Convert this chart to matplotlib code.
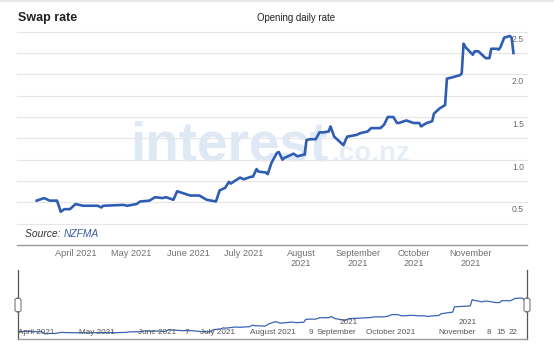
import matplotlib
matplotlib.use("Agg")
import matplotlib.pyplot as plt
import matplotlib.dates as mdates
from matplotlib.transforms import offset_copy
from matplotlib.patches import FancyBboxPatch
from matplotlib.lines import Line2D
import pandas as pd
from datetime import datetime

# ---------------- data ----------------
dates = ["2021-03-11", "2021-03-15", "2021-03-18", "2021-03-22", "2021-03-24", "2021-03-26",
         "2021-03-29", "2021-04-01", "2021-04-05", "2021-04-13", "2021-04-15", "2021-04-16",
         "2021-04-27", "2021-04-29", "2021-05-04", "2021-05-06", "2021-05-11", "2021-05-14",
         "2021-05-18", "2021-05-20", "2021-05-24", "2021-05-26", "2021-06-02", "2021-06-07",
         "2021-06-11", "2021-06-16", "2021-06-18", "2021-06-21", "2021-06-23", "2021-06-24",
         "2021-06-29", "2021-07-01", "2021-07-05", "2021-07-06", "2021-07-08", "2021-07-09",
         "2021-07-13", "2021-07-14", "2021-07-16", "2021-07-19", "2021-07-20", "2021-07-22",
         "2021-07-23", "2021-07-28", "2021-07-30", "2021-08-03", "2021-08-04", "2021-08-06",
         "2021-08-09", "2021-08-11", "2021-08-13", "2021-08-16", "2021-08-17", "2021-08-19",
         "2021-08-24", "2021-08-26", "2021-08-31", "2021-09-02", "2021-09-06", "2021-09-08",
         "2021-09-13", "2021-09-15", "2021-09-17", "2021-09-20", "2021-09-22", "2021-09-23",
         "2021-09-27", "2021-10-01", "2021-10-04", "2021-10-05", "2021-10-08", "2021-10-11",
         "2021-10-12", "2021-10-15", "2021-10-18", "2021-10-19", "2021-10-21", "2021-10-26",
         "2021-10-27", "2021-10-28", "2021-10-29", "2021-11-02", "2021-11-03", "2021-11-05",
         "2021-11-09", "2021-11-11", "2021-11-12", "2021-11-15", "2021-11-16", "2021-11-17",
         "2021-11-19", "2021-11-22", "2021-11-23", "2021-11-24"]
rates = [0.52, 0.55, 0.52, 0.52, 0.39, 0.42,
         0.42, 0.48, 0.46, 0.46, 0.44, 0.46,
         0.47, 0.46, 0.48, 0.51, 0.52, 0.56,
         0.55, 0.56, 0.53, 0.63, 0.58, 0.58,
         0.53, 0.51, 0.64, 0.67, 0.74, 0.72,
         0.79, 0.77, 0.80, 0.80, 0.89, 0.86,
         0.85, 0.83, 0.96, 1.08, 1.09, 1.00,
         1.02, 1.07, 1.04, 1.06, 1.23, 1.24,
         1.24, 1.32, 1.32, 1.33, 1.39, 1.27,
         1.17, 1.27, 1.29, 1.31, 1.33, 1.37,
         1.37, 1.41, 1.50, 1.50, 1.43, 1.43,
         1.46, 1.43, 1.43, 1.39, 1.43, 1.45,
         1.54, 1.60, 1.64, 1.95, 1.96, 1.99,
         2.01, 2.36, 2.32, 2.23, 2.27, 2.27,
         2.19, 2.19, 2.30, 2.30, 2.29, 2.32,
         2.43, 2.45, 2.43, 2.25]

month_ticks = ["2021-04-01", "2021-05-01", "2021-06-01", "2021-07-01",
               "2021-08-01", "2021-09-01", "2021-10-01", "2021-11-01"]
month_labels = ["April 2021", "May 2021", "June 2021", "July 2021",
                "August\n2021", "September\n2021", "October\n2021", "November\n2021"]
y_ticks = [0.5, 1.0, 1.5, 2.0, 2.5]
y_tick_labels = ["0.5", "1.0", "1.5", "2.0", "2.5"]

title = "Swap rate"
subtitle = "Opening daily rate"

# navigator labels (text, left pixel x, row)  -- layout only
nav_labels = [("April 2021", 18, 0), ("May 2021", 79, 0), ("June 2021", 138, 0), ("7", 185, 0),
              ("July 2021", 200, 0), ("August 2021", 250, 0), ("9", 309, 0),
              ("September", 317, 0), ("2021", 340, 1), ("October 2021", 366, 0),
              ("November", 438, 0), ("2021", 459, 1), ("8", 487, 0), ("15", 496, 0),
              ("22", 509, 0)]

# ---------------- plotting ----------------
W, H = 554, 355
plt.rcParams['font.family'] = ['Liberation Sans', 'DejaVu Sans']
fig = plt.figure(figsize=(W / 100, H / 100), dpi=100)
fig.patch.set_facecolor("white")

x = pd.to_datetime(dates)
LINE = "#2f5db3"

def fx(px):
    return px / W

def fy(py):
    return 1 - py / H

# main axes
left, right, top, bottom = 17, 527, 31.7, 245
ax = fig.add_axes([fx(left), fy(bottom), (right - left) / W, (bottom - top) / H])
ax.set_xlim(datetime(2021, 2, 28, 8), datetime(2021, 12, 1, 8))
ax.set_ylim(0, 2.5)
for s in ["top", "left", "right"]:
    ax.spines[s].set_visible(False)
ax.spines["bottom"].set_color("#9a9a9a")
ax.spines["bottom"].set_linewidth(1.0)
ax.set_yticks([i * 0.25 for i in range(11)])
ax.tick_params(axis="y", length=0, labelleft=False)
ax.grid(axis="y", color="#e6e6e6", linewidth=0.8)
for gl in ax.get_ygridlines():
    gl.set_clip_on(False)
ax.set_xticks(pd.to_datetime(month_ticks))
ax.set_xticklabels(month_labels, fontsize=6.6, color="#6e6e6e", linespacing=1.15)
ax.tick_params(axis="x", length=0, pad=3.2)

# watermark
ax.text(0.222, 0.395, "interest", transform=ax.transAxes, fontsize=39.5, fontweight="bold",
        color="#dfe8f5", ha="left", va="baseline", zorder=0)
ax.text(0.615, 0.395, ".co.nz", transform=ax.transAxes, fontsize=20, fontweight="bold",
        color="#e8eef7", ha="left", va="baseline", zorder=0)

ax.plot(x, rates, color=LINE, linewidth=1.9, solid_joinstyle="round", zorder=3)

# y labels inside, below gridlines
ytrans = offset_copy(ax.get_yaxis_transform(), fig=fig, y=-7.5, units="dots")
for v, lab in zip(y_ticks, y_tick_labels):
    ax.text((524 - left) / (right - left), v, lab, transform=ytrans, ha="right", va="center",
            fontsize=6.2, color="#6a6a6a")

# source
src = ax.text((25 - left) / (right - left), 0.05, "Source: ", transform=ax.transAxes,
              fontsize=7.4, style="italic", color="#333333", ha="left", va="center")
ax.annotate("NZFMA", xy=(1, 0), xycoords=src, ha="left", va="bottom",
            fontsize=7.4, style="italic", color="#3b5b9c")

# titles
fig.text(fx(18), fy(18.3), title, fontsize=9, fontweight="bold", color="#222222",
         ha="left", va="center")
fig.text(fx(257), fy(18.3), subtitle, fontsize=6.9, color="#222222",
         ha="left", va="center")
fig.add_artist(Line2D([0, 1], [fy(0.8), fy(0.8)], color="#e4e4e4", linewidth=1.2))

# navigator
nl, nr, nt, nb = 18, 527, 270, 339
nav = fig.add_axes([fx(nl), fy(nb), (nr - nl) / W, (nb - nt) / H])
nav.set_xlim(datetime(2021, 3, 10), datetime(2021, 11, 25))
nav.set_ylim(0.1, 4.06)
nav.plot(x, rates, color="#3b63b3", linewidth=0.9)
nav.set_xticks([])
nav.set_yticks([])
nav.spines["top"].set_visible(False)
for s in ["left", "right"]:
    nav.spines[s].set_color("#555555")
    nav.spines[s].set_linewidth(0.9)
nav.spines["bottom"].set_color("#9a9a9a")
nav.spines["bottom"].set_linewidth(1.0)
nav.patch.set_alpha(0)
for lab, px, row in nav_labels:
    nav.text((px - nl) / (nr - nl), (nb - (332 if row == 0 else 322.3)) / (nb - nt), lab,
             transform=nav.transAxes, fontsize=5.9, color="#555555", ha="left", va="center")
for hx in (nl, nr):
    fig.add_artist(FancyBboxPatch((fx(hx - 3), fy(312)), 6 / W, 14 / H,
                                  boxstyle="round,pad=0,rounding_size=0.006",
                                  facecolor="white", edgecolor="#777777", linewidth=0.8))

fig.savefig("out.png", dpi=100, facecolor="white")
